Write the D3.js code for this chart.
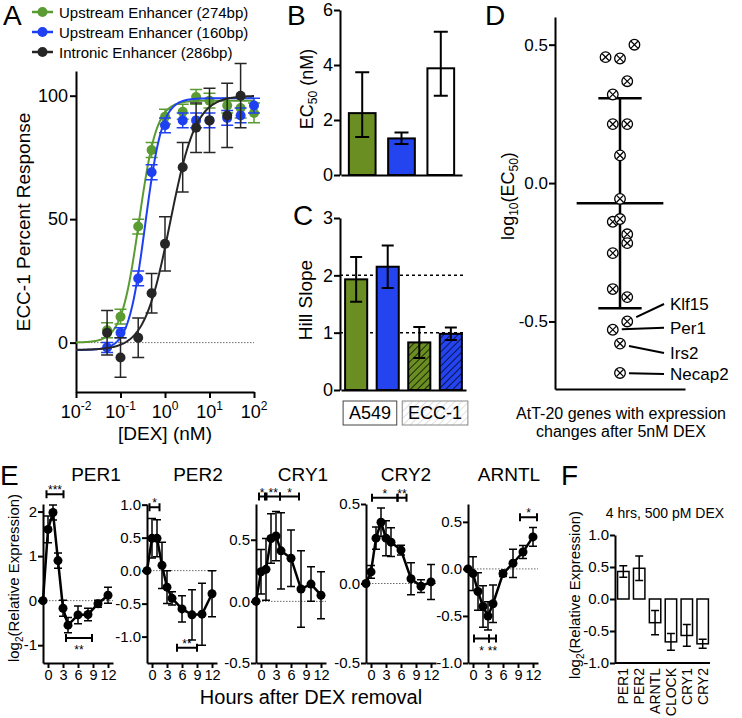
<!DOCTYPE html>
<html lang="en">
<head>
    <meta charset="UTF-8">
    <title>Enhancer dose response and clock genes</title>
    <script src="https://cdn.jsdelivr.net/npm/d3@7/dist/d3.min.js"></script>
    <style>
        body { margin: 0; background: #fff; }
        #fig { display: block; font-family: "Liberation Sans", Arial, Helvetica, sans-serif; }
    </style>
</head>
<body>
<svg id="fig" width="742" height="718"></svg>
<script>
    // ---- A: ECC-1 dose response ----
    var doseNM = [0.05, 0.1, 0.25, 0.5, 1, 2.5, 5, 10, 25, 50, 100];
    var up274 = [5, 10.5, 47, 78, 91.5, 93.5, 99.5, 98, 96, 95, 93];
    var up274Err = [3, 3, 3, 3, 3, 3, 3, 3, 3, 4, 4];
    var up160 = [-2, 4, 26, 69, 88, 90, 90, 90, 91, 92, 96];
    var up160Err = [2, 2, 3, 3, 3, 3, 3, 3, 3, 3, 3];
    var intronic = [4, -6, 2, 20, 40, 71, 87, 90, 92, 100, null];
    var intronicErr = [9, 8, 8, 8, 11, 10, 10, 13, 13, 13, null];
    // fitted curves: bottom, top, EC50 (nM), Hill slope
    var fit274 = [0, 98, 0.26, 2.2];
    var fit160 = [-3, 99, 0.36, 2.3];
    var fitIntronic = [-3, 100, 1.3, 1.5];
    var seriesNames = ["Upstream Enhancer (274bp)", "Upstream Enhancer (160bp)", "Intronic Enhancer (286bp)"];
    var doseTicks = [0.01, 0.1, 1, 10, 100];

    // ---- B: EC50 ----
    var ec50Groups = ["274bp", "160bp", "286bp"];
    var ec50 = [2.25, 1.33, 3.88];
    var ec50Lo = [1.38, 1.13, 2.88];
    var ec50Hi = [3.74, 1.55, 5.21];

    // ---- C: Hill slope ----
    var hillGroups = ["A549 274bp", "A549 160bp", "ECC-1 274bp", "ECC-1 160bp"];
    var hillSlope = [1.93, 2.15, 0.83, 0.98];
    var hillErr = [0.39, 0.37, 0.27, 0.11];
    var hillCells = ["A549", "ECC-1"];
    var hillRefLines = [1, 2];

    // ---- D: AtT-20 genes, log10(EC50) ----
    var attLog = [0.455, 0.45, 0.50, 0.368, 0.32, 0.213, 0.213, 0.10, -0.057, -0.14,
        -0.13, -0.185, -0.217, -0.253, -0.383, -0.412, -0.50, -0.53, -0.58, -0.686];
    var attSlot = [-2, 0, 2, 1, -1, -1, 1, 0, 0, -1, 0, 1, 1, -1, -1, 1, 1, -1, 0, 0];
    var attNamed = ["Klf15", "Per1", "Irs2", "Necap2"];
    var attNamedIdx = [16, 17, 18, 19];
    var attNamedAt = [-0.437, -0.523, -0.614, -0.69];

    // ---- E: time course after DEX removal ----
    var hours = [-1, 0, 1, 2, 3, 4, 6, 8, 10, 12];
    var per1 = [0, 1.6, 1.98, 0.9, -0.17, -0.55, -0.32, -0.31, -0.07, 0.12];
    var per1Err = [0, 0.3, 0.17, 0.17, 0.18, 0.17, 0.2, 0.14, 0.08, 0.18];
    var per2 = [0, 0.49, 0.49, 0.08, -0.25, -0.42, -0.58, -0.67, -0.66, -0.35];
    var per2Err = [0, 0.3, 0.28, 0.35, 0.25, 0.1, 0.2, 0.38, 0.47, 0.35];
    var cry1 = [0, 0.24, 0.26, 0.51, 0.53, 0.41, 0.35, 0.1, 0.14, 0.05];
    var cry1Err = [0, 0.18, 0.25, 0.2, 0.2, 0.31, 0.23, 0.31, 0.14, 0.19];
    var cry2 = [0, 0.073, 0.285, 0.385, 0.285, 0.26, 0.21, 0.03, -0.017, 0.01];
    var cry2Err = [0, 0.04, 0.07, 0.09, 0.11, 0.09, 0.03, 0.1, 0.04, 0.11];
    var arntl = [0, -0.05, -0.24, -0.4, -0.5, -0.37, -0.05, 0.06, 0.18, 0.34];
    var arntlErr = [0, 0.18, 0.2, 0.22, 0.15, 0.2, 0.03, 0.15, 0.07, 0.1];
    // significance brackets: gene, from (h), to (h), level, stars, stars below line
    var sigMarks = [
        ["PER1", -0.3, 3.1, 2.39, "***", false],
        ["PER1", 3.6, 8.8, -0.84, "**", true],
        ["PER2", -0.5, 1.5, 0.96, "*", false],
        ["PER2", 5, 9, -1.17, "**", false],
        ["CRY1", -0.4, 0.8, 0.85, "*", false],
        ["CRY1", 1.1, 3.8, 0.85, "**", false],
        ["CRY1", 3.8, 7.6, 0.85, "*", false],
        ["CRY2", 0.2, 5.3, 0.54, "*", false],
        ["CRY2", 5.3, 7.1, 0.54, "**", false],
        ["ARNTL", 0.2, 3.2, -0.74, "* ", true],
        ["ARNTL", 3.2, 4.6, -0.74, "**", true],
        ["ARNTL", 9.4, 12.8, 0.55, "*", false]
    ];

    // ---- F: 4 hrs, 500 pM DEX ----
    var fGenes = ["PER1", "PER2", "ARNTL", "CLOCK", "CRY1", "CRY2"];
    var fExpr = [0.43, 0.48, -0.37, -0.67, -0.57, -0.70];
    var fErr = [0.09, 0.19, 0.19, 0.13, 0.17, 0.07];

    var GREEN = "#5a9c31", BLUE = "#1f3ff2", DARK = "#262626";
    var BAR_GREEN = "#6b8e23", BAR_BLUE = "#2444f0";

    var svg = d3.select("#fig");
    var defs = svg.append("defs");

    function hatch(id, bg, fg, size, sw) {
        var p = defs.append("pattern")
                .attr("id", id)
                .attr("patternUnits", "userSpaceOnUse")
                .attr("width", size)
                .attr("height", size)
                .attr("patternTransform", "rotate(45)");
        p.append("rect").attr("width", size).attr("height", size).attr("fill", bg);
        p.append("line").attr("x1", 0).attr("y1", 0).attr("x2", 0).attr("y2", size)
                .attr("stroke", fg).attr("stroke-width", sw);
    }
    hatch("hGreen", BAR_GREEN, "#1b2806", 5, 2);
    hatch("hBlue", BAR_BLUE, "#0b1557", 5, 2);
    hatch("hLight", "#fff", "#d6d6d6", 5, 1.5);

    function styleAxis(g, size) {
        g.attr("font-family", null).attr("font-size", size);
        g.select(".domain").attr("stroke-width", 2);
        g.selectAll(".tick line").attr("stroke-width", 2);
    }

    function vErr(g, x, y1, y2, half, color, sw) {
        g.append("path")
                .attr("d", "M" + x + "," + y1 + "V" + y2 +
                        "M" + (x - half) + "," + y1 + "H" + (x + half) +
                        "M" + (x - half) + "," + y2 + "H" + (x + half))
                .attr("fill", "none")
                .attr("stroke", color)
                .attr("stroke-width", sw);
    }

    function panelLetter(x, y, t) {
        svg.append("text").attr("x", x).attr("y", y).attr("font-size", 28).text(t);
    }

    function fmt1(d) { return d.toFixed(1); }

    function dotted(g, x1, x2, y) {
        g.append("line").attr("x1", x1).attr("x2", x2).attr("y1", y).attr("y2", y)
                .attr("stroke", "#444").attr("stroke-width", 0.8).attr("stroke-dasharray", "1.5,1.5");
    }

    // ================= A =================
    var xA = d3.scaleLog().domain([0.01, 100]).range([76, 254]);
    var yA = d3.scaleLinear().domain([-20, 110]).range([392, 71]);
    var gA = svg.append("g");

    dotted(gA, xA.range()[0], xA.range()[1], yA(0));

    var axAy = gA.append("g").attr("transform", "translate(76,0)")
            .call(d3.axisLeft(yA).tickValues([0, 50, 100]).tickSize(6).tickSizeOuter(0).tickPadding(2));
    styleAxis(axAy, 18);
    var axAx = gA.append("g").attr("transform", "translate(0," + yA.range()[0] + ")")
            .call(d3.axisBottom(xA).tickValues(doseTicks).tickSize(6).tickSizeOuter(0).tickFormat(""));
    styleAxis(axAx, 18);

    doseTicks.forEach(function (d) {
        var t = gA.append("text")
                .attr("x", xA(d))
                .attr("y", 418)
                .attr("text-anchor", "middle")
                .attr("font-size", 18);
        t.append("tspan").text("10");
        t.append("tspan").attr("dy", -8).attr("font-size", 12).text(Math.round(Math.log10(d)));
    });

    gA.append("text").attr("x", 165).attr("y", 440).attr("text-anchor", "middle")
            .attr("font-size", 19).text("[DEX] (nM)");
    gA.append("text").attr("transform", "translate(30,222) rotate(-90)").attr("text-anchor", "middle")
            .attr("font-size", 19).text("ECC-1 Percent Response");

    function hill4(p, x) {
        return p[0] + (p[1] - p[0]) / (1 + Math.pow(p[2] / x, p[3]));
    }
    var curveX = d3.range(0, 201).map(function (i) { return Math.pow(10, -2 + i * 0.02); });

    var seriesA = [
        {vals: up274, err: up274Err, fit: fit274, color: GREEN},
        {vals: up160, err: up160Err, fit: fit160, color: BLUE},
        {vals: intronic, err: intronicErr, fit: fitIntronic, color: DARK}
    ];

    seriesA.forEach(function (s) {
        var g = gA.append("g");
        g.append("path")
                .datum(curveX)
                .attr("fill", "none")
                .attr("stroke", s.color)
                .attr("stroke-width", 2)
                .attr("d", d3.line()
                        .x(function (x) { return xA(x); })
                        .y(function (x) { return yA(hill4(s.fit, x)); }));
        doseNM.forEach(function (d, j) {
            if (s.vals[j] == null) return;
            vErr(g, xA(d), yA(s.vals[j] + s.err[j]), yA(s.vals[j] - s.err[j]), 6, s.color, 1.5);
        });
        g.selectAll("circle")
                .data(doseNM.map(function (d, j) { return [d, s.vals[j]]; })
                        .filter(function (p) { return p[1] != null; }))
                .enter().append("circle")
                .attr("cx", function (p) { return xA(p[0]); })
                .attr("cy", function (p) { return yA(p[1]); })
                .attr("r", 5)
                .attr("fill", s.color);
    });

    // legend
    seriesA.forEach(function (s, i) {
        var y = 12 + i * 20;
        gA.append("line").attr("x1", 32).attr("x2", 53).attr("y1", y).attr("y2", y)
                .attr("stroke", s.color).attr("stroke-width", 2.5);
        gA.append("circle").attr("cx", 42.5).attr("cy", y).attr("r", 5).attr("fill", s.color);
        gA.append("text").attr("x", 59).attr("y", y + 5.5).attr("font-size", 15).text(seriesNames[i]);
    });
    panelLetter(3, 25, "A");

    // ================= B =================
    var yB = d3.scaleLinear().domain([0, 6]).range([175, 10]);
    var xB = d3.scaleBand().domain(ec50Groups).range([341, 462]).paddingInner(0.32).paddingOuter(0.2);
    var gB = svg.append("g");
    var bFill = [BAR_GREEN, BAR_BLUE, "#fff"];

    gB.selectAll("rect")
            .data(ec50Groups)
            .enter().append("rect")
            .attr("x", function (d) { return xB(d); })
            .attr("width", xB.bandwidth())
            .attr("y", function (d, i) { return yB(ec50[i]); })
            .attr("height", function (d, i) { return yB(0) - yB(ec50[i]); })
            .attr("fill", function (d, i) { return bFill[i]; })
            .attr("stroke", "#000")
            .attr("stroke-width", 2);
    ec50Groups.forEach(function (d, i) {
        vErr(gB, xB(d) + xB.bandwidth() / 2, yB(ec50Hi[i]), yB(ec50Lo[i]), 7, "#000", 2);
    });
    var axBy = gB.append("g").attr("transform", "translate(340,0)")
            .call(d3.axisLeft(yB).ticks(3).tickSize(6).tickSizeOuter(0).tickPadding(1));
    styleAxis(axBy, 18);
    var axBx = gB.append("g").attr("transform", "translate(0," + yB(0) + ")")
            .call(d3.axisBottom(xB).tickSize(0).tickSizeOuter(0).tickFormat(""));
    styleAxis(axBx, 18);
    var tB = gB.append("text").attr("transform", "translate(313,89) rotate(-90)")
            .attr("text-anchor", "middle").attr("font-size", 18);
    tB.append("tspan").text("EC");
    tB.append("tspan").attr("dy", 4).attr("font-size", 12).text("50");
    tB.append("tspan").attr("dy", -4).text(" (nM)");
    panelLetter(287, 25, "B");

    // ================= C =================
    var yC = d3.scaleLinear().domain([0, 3]).range([390, 218]);
    var xC = d3.scaleBand().domain(hillGroups).range([341, 466]).paddingInner(0.3).paddingOuter(0.13);
    var gC = svg.append("g");
    var cFill = [BAR_GREEN, BAR_BLUE, "url(#hGreen)", "url(#hBlue)"];

    hillRefLines.forEach(function (v) {
        gC.append("line").attr("x1", 340).attr("x2", 466).attr("y1", yC(v)).attr("y2", yC(v))
                .attr("stroke", "#000").attr("stroke-width", 1.5).attr("stroke-dasharray", "3,3");
    });
    gC.selectAll("rect.bar")
            .data(hillGroups)
            .enter().append("rect")
            .attr("class", "bar")
            .attr("x", function (d) { return xC(d); })
            .attr("width", xC.bandwidth())
            .attr("y", function (d, i) { return yC(hillSlope[i]); })
            .attr("height", function (d, i) { return yC(0) - yC(hillSlope[i]); })
            .attr("fill", function (d, i) { return cFill[i]; })
            .attr("stroke", "#000")
            .attr("stroke-width", 2);
    hillGroups.forEach(function (d, i) {
        vErr(gC, xC(d) + xC.bandwidth() / 2, yC(hillSlope[i] + hillErr[i]), yC(hillSlope[i] - hillErr[i]), 6, "#000", 2);
    });
    var axCy = gC.append("g").attr("transform", "translate(340,0)")
            .call(d3.axisLeft(yC).ticks(3).tickSize(6).tickSizeOuter(0).tickPadding(1));
    styleAxis(axCy, 18);
    var axCx = gC.append("g").attr("transform", "translate(0," + yC(0) + ")")
            .call(d3.axisBottom(xC).tickSize(0).tickSizeOuter(0).tickFormat(""));
    styleAxis(axCx, 18);

    // cell line boxes under the bars
    hillCells.forEach(function (c, k) {
        var first = hillGroups[k * 2], last = hillGroups[k * 2 + 1];
        var x1 = k === 0 ? xC(first) - 2 : xC(first) - 6;
        var x2 = k === 0 ? xC(last) + xC.bandwidth() - 2 : xC(last) + xC.bandwidth() + 6;
        gC.append("rect").attr("x", x1).attr("y", 401).attr("width", x2 - x1).attr("height", 24)
                .attr("fill", k === 0 ? "#fff" : "url(#hLight)")
                .attr("stroke", k === 0 ? "#444" : "#888").attr("stroke-width", 1);
        gC.append("text").attr("x", (x1 + x2) / 2).attr("y", 419).attr("text-anchor", "middle")
                .attr("font-size", 18).text(c);
    });
    gC.append("text").attr("transform", "translate(312,300) rotate(-90)").attr("text-anchor", "middle")
            .attr("font-size", 19).text("Hill Slope");
    panelLetter(293, 225, "C");

    // ================= D =================
    var yD = d3.scaleLinear().domain([-0.744, 0.6]).range([389, 17]);
    var xD = d3.scaleLinear().domain([-9, 9]).range([555, 685]);
    var gD = svg.append("g");

    var mD = d3.mean(attLog), sdD = d3.deviation(attLog);
    gD.append("path")
            .attr("d", "M" + xD(-6) + "," + yD(mD) + "H" + xD(6) +
                    "M" + xD(-3) + "," + yD(mD + sdD) + "H" + xD(3) +
                    "M" + xD(-3) + "," + yD(mD - sdD) + "H" + xD(3) +
                    "M" + xD(0) + "," + yD(mD + sdD) + "V" + yD(mD - sdD))
            .attr("fill", "none").attr("stroke", "#000").attr("stroke-width", 2.5);

    var pts = gD.selectAll("g.pt")
            .data(attLog)
            .enter().append("g")
            .attr("class", "pt")
            .attr("transform", function (d, i) { return "translate(" + xD(attSlot[i]) + "," + yD(d) + ")"; });
    pts.append("circle").attr("r", 5.3).attr("fill", "#fff").attr("stroke", "#000").attr("stroke-width", 1.3);
    pts.append("path").attr("d", "M-3.4,-3.4L3.4,3.4M-3.4,3.4L3.4,-3.4")
            .attr("stroke", "#000").attr("stroke-width", 1.2);

    attNamed.forEach(function (name, k) {
        var i = attNamedIdx[k];
        var px = xD(attSlot[i]), py = yD(attLog[i]), ly = yD(attNamedAt[k]);
        gD.append("line").attr("x1", px + 9).attr("y1", py + (ly - py) * 0.25)
                .attr("x2", 664).attr("y2", ly)
                .attr("stroke", "#000").attr("stroke-width", 2);
        gD.append("text").attr("x", 670).attr("y", ly).attr("dy", "0.35em")
                .attr("font-size", 17).text(name);
    });

    var axDy = gD.append("g").attr("transform", "translate(555,0)")
            .call(d3.axisLeft(yD).tickValues([-0.5, 0, 0.5]).tickFormat(fmt1).tickSize(6).tickSizeOuter(0).tickPadding(1));
    styleAxis(axDy, 17);
    var axDx = gD.append("g").attr("transform", "translate(0," + yD.range()[0] + ")")
            .call(d3.axisBottom(xD).tickValues([]).tickSizeOuter(0));
    styleAxis(axDx, 17);

    var tD = gD.append("text").attr("transform", "translate(514,196) rotate(-90)")
            .attr("text-anchor", "middle").attr("font-size", 18);
    tD.append("tspan").text("log");
    tD.append("tspan").attr("dy", 4).attr("font-size", 12).text("10");
    tD.append("tspan").attr("dy", -4).text("(EC");
    tD.append("tspan").attr("dy", 4).attr("font-size", 12).text("50");
    tD.append("tspan").attr("dy", -4).text(")");
    gD.append("text").attr("x", 621).attr("y", 419).attr("text-anchor", "middle")
            .attr("font-size", 16).text("AtT-20 genes with expression");
    gD.append("text").attr("x", 621).attr("y", 437).attr("text-anchor", "middle")
            .attr("font-size", 16).text("changes after 5nM DEX");
    panelLetter(485, 25, "D");

    // ================= E =================
    var eSeries = {PER1: [per1, per1Err], PER2: [per2, per2Err], CRY1: [cry1, cry1Err],
        CRY2: [cry2, cry2Err], ARNTL: [arntl, arntlErr]};
    var eLayout = [
        {gene: "PER1", x0: 43, dom: [-1.4, 2.17], ticks: [-1, 0, 1, 2], fmt: String, title: 96},
        {gene: "PER2", x0: 147, dom: [-1.4, 1.01], ticks: [-1, -0.5, 0, 0.5, 1], fmt: fmt1, title: 198},
        {gene: "CRY1", x0: 256, dom: [-0.5, 0.79], ticks: [-0.5, 0, 0.5], fmt: fmt1, title: 303},
        {gene: "CRY2", x0: 366, dom: [-0.5, 0.5], ticks: [-0.5, 0, 0.5], fmt: fmt1, title: 406},
        {gene: "ARNTL", x0: 468, dom: [-1.0, 0.69], ticks: [-1, -0.5, 0, 0.5], fmt: fmt1, title: 509}
    ];
    var gE = svg.append("g");

    eLayout.forEach(function (L) {
        var xs = d3.scaleLinear().domain([-1, 13]).range([L.x0, L.x0 + 70]);
        var ys = d3.scaleLinear().domain(L.dom).range([663, 504]);
        var vals = eSeries[L.gene][0], errs = eSeries[L.gene][1];
        var g = gE.append("g");

        dotted(g, L.x0, L.x0 + 70, ys(0));

        hours.forEach(function (h, j) {
            if (errs[j] > 0) vErr(g, xs(h), ys(vals[j] + errs[j]), ys(vals[j] - errs[j]), 4, "#000", 1.5);
        });
        g.append("path")
                .datum(hours)
                .attr("fill", "none")
                .attr("stroke", "#000")
                .attr("stroke-width", 2.5)
                .attr("d", d3.line()
                        .x(function (h) { return xs(h); })
                        .y(function (h, j) { return ys(vals[j]); }));
        g.selectAll("circle")
                .data(hours)
                .enter().append("circle")
                .attr("cx", function (h) { return xs(h); })
                .attr("cy", function (h, j) { return ys(vals[j]); })
                .attr("r", 4.5)
                .attr("fill", "#000");

        var ay = g.append("g").attr("transform", "translate(" + L.x0 + ",0)")
                .call(d3.axisLeft(ys).tickValues(L.ticks).tickFormat(L.fmt).tickSize(5).tickSizeOuter(0).tickPadding(1));
        styleAxis(ay, 15);
        var ax = g.append("g").attr("transform", "translate(0,663)")
                .call(d3.axisBottom(xs).tickValues([0, 3, 6, 9, 12]).tickSize(5).tickSizeOuter(0).tickPadding(2));
        styleAxis(ax, 14.5);

        g.append("text").attr("x", L.title).attr("y", 481).attr("text-anchor", "middle")
                .attr("font-size", 19).text(L.gene);

        sigMarks.filter(function (m) { return m[0] === L.gene; }).forEach(function (m) {
            var y = ys(m[3]), a = xs(m[1]), b = xs(m[2]);
            g.append("path")
                    .attr("d", "M" + a + "," + y + "H" + b +
                            "M" + a + "," + (y - 4) + "V" + (y + 4) +
                            "M" + b + "," + (y - 4) + "V" + (y + 4))
                    .attr("fill", "none").attr("stroke", "#000").attr("stroke-width", 2);
            g.append("text").attr("x", (a + b) / 2).attr("y", m[5] ? y + 16 : y)
                    .attr("text-anchor", "middle").attr("font-size", 12).text(m[4]);
        });
    });

    gE.append("text").attr("transform", "translate(19,578) rotate(-90)").attr("text-anchor", "middle")
            .attr("font-size", 15)
            .call(function (t) {
                t.append("tspan").text("log");
                t.append("tspan").attr("dy", 4).attr("font-size", 10).text("2");
                t.append("tspan").attr("dy", -4).text("(Relative Expression)");
            });
    gE.append("text").attr("x", 311).attr("y", 704).attr("text-anchor", "middle")
            .attr("font-size", 20).text("Hours after DEX removal");
    panelLetter(0, 485, "E");

    // ================= F =================
    var yF = d3.scaleLinear().domain([-1, 1]).range([663, 535]);
    var xF = d3.scaleBand().domain(fGenes).range([616, 710]).paddingInner(0.28).paddingOuter(0.1);
    var gF = svg.append("g");

    gF.selectAll("rect")
            .data(fGenes)
            .enter().append("rect")
            .attr("x", function (d) { return xF(d); })
            .attr("width", xF.bandwidth())
            .attr("y", function (d, i) { return yF(Math.max(0, fExpr[i])); })
            .attr("height", function (d, i) { return Math.abs(yF(0) - yF(fExpr[i])); })
            .attr("fill", "#fff")
            .attr("stroke", "#000")
            .attr("stroke-width", 1.5);
    fGenes.forEach(function (d, i) {
        vErr(gF, xF(d) + xF.bandwidth() / 2, yF(fExpr[i] + fErr[i]), yF(fExpr[i] - fErr[i]), 4, "#000", 1.5);
    });
    var axFy = gF.append("g").attr("transform", "translate(615,0)")
            .call(d3.axisLeft(yF).tickValues([-1, -0.5, 0, 0.5, 1]).tickFormat(fmt1).tickSize(5).tickSizeOuter(0).tickPadding(1));
    styleAxis(axFy, 15);
    var axFx = gF.append("g").attr("transform", "translate(0,663)")
            .call(d3.axisBottom(xF).tickSize(0).tickSizeOuter(0).tickFormat(""));
    styleAxis(axFx, 14);
    axFx.select(".domain").attr("d", "M615,0H710");

    gF.selectAll("text.gl")
            .data(fGenes)
            .enter().append("text")
            .attr("class", "gl")
            .attr("transform", function (d) {
                return "translate(" + (xF(d) + xF.bandwidth() / 2 + 5) + ",668) rotate(-90)";
            })
            .attr("text-anchor", "end")
            .attr("font-size", 14)
            .text(function (d) { return d; });

    gF.append("text").attr("x", 665).attr("y", 518).attr("text-anchor", "middle")
            .attr("font-size", 14).text("4 hrs, 500 pM DEX");
    gF.append("text").attr("transform", "translate(580,595) rotate(-90)").attr("text-anchor", "middle")
            .attr("font-size", 15)
            .call(function (t) {
                t.append("tspan").text("log");
                t.append("tspan").attr("dy", 4).attr("font-size", 10).text("2");
                t.append("tspan").attr("dy", -4).text("(Relative Expression)");
            });
    panelLetter(561, 485, "F");
</script>
</body>
</html>
